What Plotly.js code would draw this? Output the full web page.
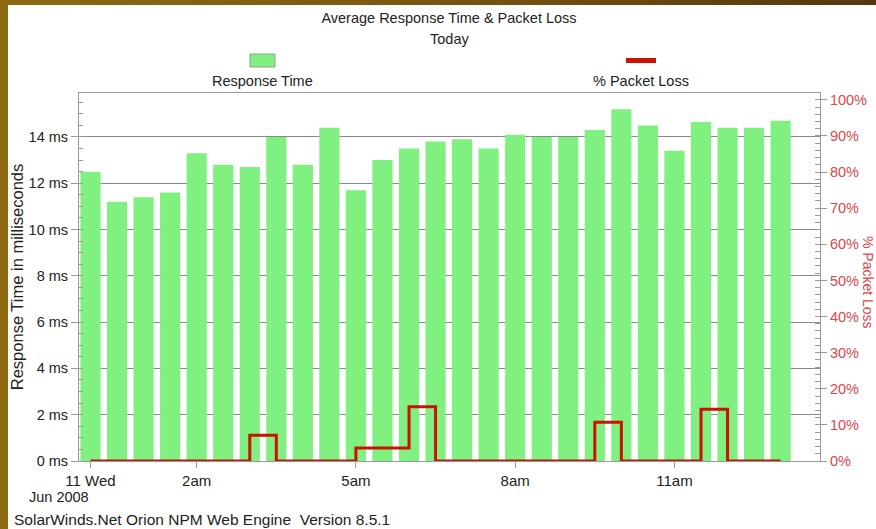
<!DOCTYPE html>
<html>
<head>
<meta charset="utf-8">
<script src="https://cdn.plot.ly/plotly-3.0.1.min.js"></script>
<style>
  html, body { margin: 0; padding: 0; width: 876px; height: 529px; overflow: hidden;
    background: linear-gradient(to right, #8d6a12 0%, #7a5612 50%, #56360c 100%); }
  #chart { position: absolute; left: 8px; top: 5px; width: 868px; height: 524px; }
</style>
</head>
<body>
<div id="chart"></div>
<script>
// ---- data ----
const times = [
  '2008-06-11 00:00', '2008-06-11 00:30', '2008-06-11 01:00', '2008-06-11 01:30',
  '2008-06-11 02:00', '2008-06-11 02:30', '2008-06-11 03:00', '2008-06-11 03:30',
  '2008-06-11 04:00', '2008-06-11 04:30', '2008-06-11 05:00', '2008-06-11 05:30',
  '2008-06-11 06:00', '2008-06-11 06:30', '2008-06-11 07:00', '2008-06-11 07:30',
  '2008-06-11 08:00', '2008-06-11 08:30', '2008-06-11 09:00', '2008-06-11 09:30',
  '2008-06-11 10:00', '2008-06-11 10:30', '2008-06-11 11:00', '2008-06-11 11:30',
  '2008-06-11 12:00', '2008-06-11 12:30', '2008-06-11 13:00'
];
const responseTime = [
  12.5, 11.2, 11.4, 11.6, 13.3, 12.8, 12.7, 14.0, 12.8, 14.4,
  11.7, 13.0, 13.5, 13.8, 13.9, 13.5, 14.1, 14.0, 14.0, 14.3,
  15.2, 14.5, 13.4, 14.65, 14.4, 14.4, 14.7
];
const packetLoss = [
  0, 0, 0, 0, 0, 0, 7.1, 0, 0, 0,
  3.6, 3.6, 15.0, 0, 0, 0, 0, 0, 0, 10.7,
  0, 0, 0, 14.3, 0, 0, 0
];
const xTickVals = ['2008-06-11 00:00', '2008-06-11 02:00', '2008-06-11 05:00', '2008-06-11 08:00', '2008-06-11 11:00'];
const xTickText = ['11 Wed', '2am', '5am', '8am', '11am'];
const yTickVals = [0, 2, 4, 6, 8, 10, 12, 14];
const yTickText = ['0 ms', '2 ms', '4 ms', '6 ms', '8 ms', '10 ms', '12 ms', '14 ms'];
const y2TickVals = [0, 10, 20, 30, 40, 50, 60, 70, 80, 90, 100];
const y2TickText = ['0%', '10%', '20%', '30%', '40%', '50%', '60%', '70%', '80%', '90%', '100%'];

// ---- styles ----
const FONT = 'Liberation Sans, Arial, sans-serif';
const GREEN = '#80F080';
const RED = '#CC1100';
const PINK = '#E0454A';
const TXT = '#222';

// pixel (window) -> paper helpers; plot area spans x 79..820, y 93..461
const X = px => (px - 79) / 741;
const Y = py => (461 - py) / 368;

const traces = [
  {
    type: 'bar', name: 'Response Time', x: times, y: responseTime,
    marker: { color: GREEN }, hoverinfo: 'x+y', showlegend: false
  },
  {
    type: 'scatter', mode: 'lines', name: '% Packet Loss', x: times, y: packetLoss,
    yaxis: 'y2', line: { color: RED, width: 3, shape: 'hv' }, showlegend: false
  }
];

const layout = {
  width: 868, height: 524,
  margin: { l: 71, r: 56, t: 88, b: 68 },
  paper_bgcolor: '#ffffff', plot_bgcolor: '#ffffff',
  font: { family: FONT, size: 14, color: TXT },
  bargap: 0.24,
  showlegend: false,
  title: {
    text: 'Average Response Time & Packet Loss',
    font: { family: FONT, size: 14.5, color: TXT },
    x: (449 - 8) / 868, xanchor: 'center',
    y: 1 - (18 - 5) / 524, yanchor: 'middle', yref: 'container'
  },
  xaxis: {
    type: 'date',
    range: ['2008-06-10 23:47', '2008-06-11 13:44:30'],
    tickmode: 'array', tickvals: xTickVals, ticktext: xTickText,
    ticks: 'outside', ticklen: 6, tickcolor: '#999',
    tickfont: { family: FONT, size: 15, color: TXT },
    showgrid: false, zeroline: false,
    showline: true, linecolor: '#999', linewidth: 1, mirror: true
  },
  yaxis: {
    range: [0, 15.9],
    tickmode: 'array', tickvals: yTickVals, ticktext: yTickText,
    ticks: 'outside', ticklen: 7, tickcolor: '#999',
    minor: { ticks: 'inside', dtick: 0.5, tick0: 0, ticklen: 4, tickcolor: '#999', showgrid: false },
    tickfont: { family: FONT, size: 14.5, color: TXT },
    showgrid: true, gridcolor: '#8a8a8a', gridwidth: 1,
    zeroline: false,
    showline: true, linecolor: '#999', linewidth: 1, mirror: true,
    title: { text: 'Response Time in milliseconds', font: { family: FONT, size: 16.5, color: TXT }, standoff: 0 }
  },
  yaxis2: {
    overlaying: 'y', side: 'right',
    range: [0, 101.9],
    tickmode: 'array', tickvals: y2TickVals, ticktext: y2TickText,
    ticks: 'outside', ticklen: 6, tickcolor: '#999',
    minor: { ticks: 'inside', dtick: 2, tick0: 0, ticklen: 5, tickcolor: '#999', showgrid: false },
    tickfont: { family: FONT, size: 14.5, color: PINK },
    showgrid: false, zeroline: false, showline: false
  },
  shapes: [
    // legend symbols
    { type: 'rect', xref: 'paper', yref: 'paper', x0: X(250), x1: X(275), y0: Y(67), y1: Y(54),
      fillcolor: GREEN, line: { color: '#999', width: 1 } },
    { type: 'rect', xref: 'paper', yref: 'paper', x0: X(626), x1: X(656), y0: Y(63), y1: Y(58),
      fillcolor: RED, line: { width: 0 } }
  ],
  annotations: [
    { text: 'Today', xref: 'paper', yref: 'paper', x: X(449), y: Y(39), xanchor: 'center', yanchor: 'middle',
      showarrow: false, font: { family: FONT, size: 14.5, color: TXT } },
    { text: 'Response Time', xref: 'paper', yref: 'paper', x: X(262), y: Y(81), xanchor: 'center', yanchor: 'middle',
      showarrow: false, font: { family: FONT, size: 14.5, color: TXT } },
    { text: '% Packet Loss', xref: 'paper', yref: 'paper', x: X(641), y: Y(81), xanchor: 'center', yanchor: 'middle',
      showarrow: false, font: { family: FONT, size: 14.5, color: TXT } },
    { text: '% Packet Loss', xref: 'paper', yref: 'paper', x: X(868), y: Y(282), xanchor: 'center', yanchor: 'middle',
      textangle: 90, showarrow: false, font: { family: FONT, size: 14, color: PINK } },
    { text: 'Jun 2008', xref: 'paper', yref: 'paper', x: X(27), y: Y(497), xanchor: 'left', yanchor: 'middle',
      showarrow: false, font: { family: FONT, size: 14.5, color: TXT } },
    { text: 'SolarWinds.Net Orion NPM Web Engine\u00a0\u00a0Version 8.5.1', xref: 'paper', yref: 'paper',
      x: X(12), y: Y(519), xanchor: 'left', yanchor: 'middle',
      showarrow: false, font: { family: FONT, size: 15.5, color: TXT } }
  ]
};

Plotly.newPlot('chart', traces, layout, { displayModeBar: false, staticPlot: true });
</script>
</body>
</html>
